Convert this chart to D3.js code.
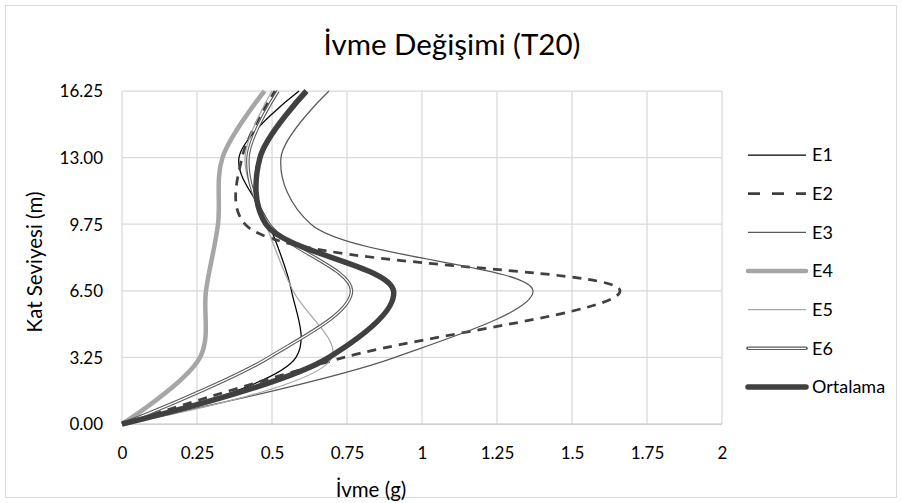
<!DOCTYPE html>
<html>
<head>
<meta charset="utf-8">
<script src="https://cdn.jsdelivr.net/npm/d3@7"></script>
<style>
  body { margin: 0; background: #fff; }
  text { font-family: Lato, "Open Sans", sans-serif; fill: #000; }
</style>
</head>
<body>
<svg id="chart"></svg>
<script>
// kat seviyeleri (m)
const heights = [0, 3.25, 6.5, 9.75, 13, 16.25]
const e1 = [0, 0.58, 0.565, 0.49, 0.39, 0.59]
const e2 = [0, 0.74, 1.66, 0.41, 0.40, 0.51]
const e3 = [0, 0.91, 1.37, 0.63, 0.53, 0.69]
const e4 = [0, 0.26, 0.28, 0.32, 0.335, 0.475]
const e5 = [0, 0.70, 0.57, 0.48, 0.41, 0.50]
const e6 = [0, 0.49, 0.765, 0.49, 0.42, 0.52]
const ortalama = [0, 0.69, 0.905, 0.48, 0.46, 0.615]

const xTicks = [0, 0.25, 0.5, 0.75, 1, 1.25, 1.5, 1.75, 2]
const yTicks = [0, 3.25, 6.5, 9.75, 13, 16.25]

const series = [
    {name: "E1", values: e1, color: "#000000", width: 1.25},
    {name: "E2", values: e2, color: "#404040", width: 2.75, dash: "9,7"},
    {name: "E3", values: e3, color: "#595959", width: 1.25},
    {name: "E4", values: e4, color: "#a6a6a6", width: 4.5},
    {name: "E5", values: e5, color: "#a6a6a6", width: 1.25},
    {name: "E6", values: e6, color: "#595959", width: 3.5, inner: "#ffffff"},
    {name: "Ortalama", values: ortalama, color: "#404040", width: 5.5}
]

const W = 902, H = 503
const svg = d3.select("#chart")
    .attr("width", W)
    .attr("height", H)

svg.append("rect")
    .attr("x", 5.5).attr("y", 5.5)
    .attr("width", W - 11).attr("height", H - 11)
    .attr("fill", "#fff")
    .attr("stroke", "#d9d9d9")

const x = d3.scaleLinear().domain([0, 2]).range([122, 722])
const y = d3.scaleLinear().domain([0, 16.25]).range([424, 91])

// grid
svg.append("g")
    .selectAll("line")
    .data(xTicks)
    .join("line")
    .attr("x1", d => x(d)).attr("x2", d => x(d))
    .attr("y1", y(0)).attr("y2", y(16.25))
    .attr("stroke", "#d9d9d9").attr("stroke-width", 1.25)

svg.append("g")
    .selectAll("line")
    .data(yTicks)
    .join("line")
    .attr("x1", x(0)).attr("x2", x(2))
    .attr("y1", d => y(d)).attr("y2", d => y(d))
    .attr("stroke", d => d === 0 ? "#bfbfbf" : "#d9d9d9").attr("stroke-width", 1.25)

// eksen etiketleri
const xAxis = svg.append("g")
    .attr("transform", `translate(0,${y(0) + 29})`)
    .call(d3.axisBottom(x).tickValues(xTicks).tickSize(0).tickFormat(d => String(d)))
xAxis.select(".domain").remove()
xAxis.selectAll("text").attr("font-size", 17).attr("dy", "0.35em").attr("y", 0)
    .style("font-family", "Lato, 'Open Sans', sans-serif")

const yAxis = svg.append("g")
    .attr("transform", `translate(103,0)`)
    .call(d3.axisLeft(y).tickValues(yTicks).tickSize(0).tickFormat(d3.format(".2f")))
yAxis.select(".domain").remove()
yAxis.selectAll("text").attr("font-size", 17).attr("x", 0).attr("dy", "0.35em")
    .style("font-family", "Lato, 'Open Sans', sans-serif")

svg.append("text")
    .attr("x", 452).attr("y", 55)
    .attr("text-anchor", "middle")
    .attr("font-size", 29.5)
    .text("İvme Değişimi (T20)")

svg.append("text")
    .attr("x", 371).attr("y", 497)
    .attr("text-anchor", "middle")
    .attr("font-size", 20.5)
    .text("İvme (g)")

svg.append("text")
    .attr("transform", "translate(42,262) rotate(-90)")
    .attr("text-anchor", "middle")
    .attr("font-size", 20.5)
    .text("Kat Seviyesi (m)")

// egriler
const line = d3.line()
    .x(d => x(d[0]))
    .y(d => y(d[1]))
    .curve(d3.curveCatmullRom.alpha(0.5))

const plot = svg.append("g")
series.forEach(s => {
    const pts = s.values.map((v, i) => [v, heights[i]])
    plot.append("path")
        .attr("d", line(pts))
        .attr("fill", "none")
        .attr("stroke", s.color)
        .attr("stroke-width", s.width)
        .attr("stroke-dasharray", s.dash || null)
        .attr("stroke-linejoin", "round")
    if (s.inner) {
        plot.append("path")
            .attr("d", line(pts))
            .attr("fill", "none")
            .attr("stroke", s.inner)
            .attr("stroke-width", 1.3)
    }
})

// lejant
const legend = svg.append("g")
const rowY = d3.scalePoint().domain(series.map(s => s.name)).range([155, 387])
series.forEach(s => {
    const ly = rowY(s.name)
    legend.append("line")
        .attr("x1", 748).attr("x2", 806)
        .attr("y1", ly).attr("y2", ly)
        .attr("stroke", s.color)
        .attr("stroke-width", s.width)
        .attr("stroke-dasharray", s.dash ? "12,12" : null)
        .attr("stroke-linecap", s.width > 3 ? "round" : "butt")
    if (s.inner) {
        legend.append("line")
            .attr("x1", 748).attr("x2", 806)
            .attr("y1", ly).attr("y2", ly)
            .attr("stroke", s.inner).attr("stroke-width", 1.3)
    }
    legend.append("text")
        .attr("x", 812).attr("y", ly)
        .attr("dy", "0.35em")
        .attr("font-size", 18)
        .text(s.name)
})
</script>
</body>
</html>
